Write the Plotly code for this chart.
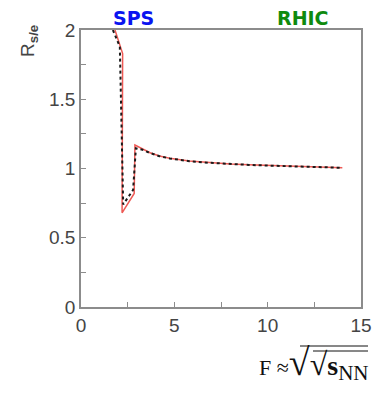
import plotly.graph_objects as go

# Red solid curve
red_x = [1.82, 2.23, 2.20, 2.85, 2.89, 3.3, 3.7, 4.2, 4.75, 5.8, 6.9, 8.0, 9.0, 10.0, 11.0, 12.0, 13.0, 14.0]
red_y = [2.00, 1.83, 0.68, 0.82, 1.17, 1.14, 1.114, 1.09, 1.074, 1.054, 1.042, 1.033, 1.027, 1.022, 1.018, 1.014, 1.010, 1.006]

# Black dotted curve
blk_x = [1.71, 2.08, 2.26, 2.79, 2.94, 3.3, 3.7, 4.2, 4.75, 5.8, 6.9, 8.0, 9.0, 10.0, 11.0, 12.0, 13.0, 14.0]
blk_y = [2.00, 1.88, 0.74, 0.845, 1.146, 1.135, 1.112, 1.089, 1.073, 1.053, 1.041, 1.032, 1.026, 1.021, 1.017, 1.013, 1.009, 1.005]

x_ticks = [0, 2.5, 5, 7.5, 10, 12.5, 15]
x_labels = ['0', '', '5', '', '10', '', '15']
y_ticks = [0, 0.25, 0.5, 0.75, 1, 1.25, 1.5, 1.75, 2]
y_labels = ['0', '', '0.5', '', '1', '', '1.5', '', '2']

# page body adds 8px; plot box in window pixels: x 81..361, y 30..307
def px(wx):
    return (wx - 81) / 280.0

def py(wy):
    return (307 - wy) / 277.0

fig = go.Figure()

fig.add_trace(go.Scatter(
    x=red_x, y=red_y, mode='lines',
    line=dict(color='#ee5a55', width=1.5),
    showlegend=False, hoverinfo='skip'
))
fig.add_trace(go.Scatter(
    x=blk_x, y=blk_y, mode='lines',
    line=dict(color='#1a1a1a', width=2, dash='dot'),
    showlegend=False, hoverinfo='skip'
))

axis_style = dict(
    showgrid=False, zeroline=False,
    showline=True, linecolor='#8c8c8c', linewidth=1.5, mirror=True,
    ticks='inside', ticklen=5, tickcolor='#8c8c8c', tickwidth=1,
    tickfont=dict(family='Liberation Sans', size=19, color='#444444'),
)

fig.update_xaxes(range=[0, 15], tickvals=x_ticks, ticktext=x_labels, **axis_style)
fig.update_yaxes(range=[0, 2], tickvals=y_ticks, ticktext=y_labels, **axis_style)

# Labels above the plot
fig.add_annotation(x=2.8, y=py(18), xref='x', yref='paper', xanchor='center', yanchor='middle',
                   text='<b>SPS</b>', showarrow=False,
                   font=dict(family='DejaVu Sans', size=19, color='#0a14f0'))
fig.add_annotation(x=11.9, y=py(18), xref='x', yref='paper', xanchor='center', yanchor='middle',
                   text='<b>RHIC</b>', showarrow=False,
                   font=dict(family='DejaVu Sans', size=19, color='#0f8a0f'))

# y-axis title
fig.add_annotation(x=px(29), y=py(41), xref='paper', yref='paper', textangle=-90,
                   xanchor='center', yanchor='middle',
                   text='R<sub><b>s/e</b></sub>', showarrow=False,
                   font=dict(family='Liberation Sans', size=19, color='#444444'))

# x-axis title  F ≈ sqrt(sqrt(s_NN))
fig.add_annotation(x=px(370), y=py(387), xref='paper', yref='paper',
                   xanchor='right', yanchor='bottom',
                   text=('F ≈<span style="font-size:38px">√</span>'
                         '<span style="font-size:32px">√</span>'
                         '<span style="font-size:28px"><b>s</b></span>'
                         '<sub><span style="font-size:21px">NN</span></sub>'),
                   showarrow=False,
                   font=dict(family='Liberation Serif', size=22, color='#111111'))
fig.add_shape(type='line', xref='paper', yref='paper', x0=px(300), x1=px(368), y0=py(346), y1=py(346),
              line=dict(color='#111111', width=1))
fig.add_shape(type='line', xref='paper', yref='paper', x0=px(313), x1=px(368), y0=py(351), y1=py(351),
              line=dict(color='#111111', width=1))

fig.update_layout(
    width=383, height=388,
    margin=dict(l=73, r=30, t=22, b=89),
    plot_bgcolor='white', paper_bgcolor='white',
)

fig.write_html("out.html")
